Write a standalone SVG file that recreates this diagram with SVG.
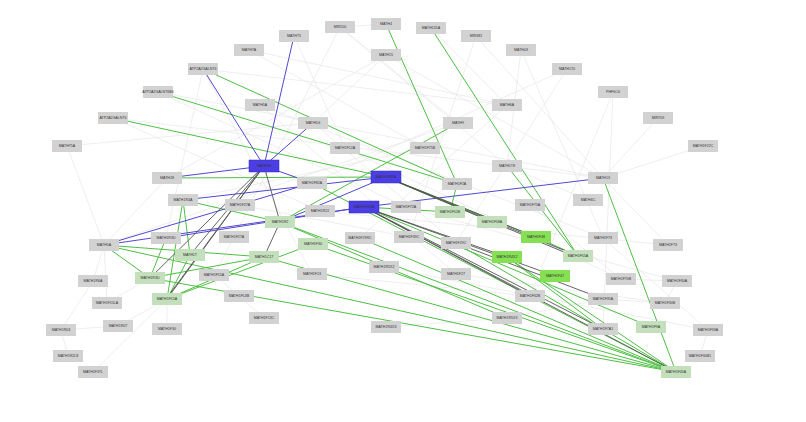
<svg xmlns="http://www.w3.org/2000/svg" width="806" height="422" viewBox="0 0 806 422">
<style>
.n rect{fill:#d2d2d2}
.lg rect{fill:#c4dfbc}
.bg rect{fill:#86e054}
.bl rect{fill:#4b3ee3;stroke:#3a2fc0;stroke-width:.5}
text{font-family:"Liberation Sans",Arial,sans-serif;font-size:3.6px;fill:#333;text-anchor:middle;dominant-baseline:central}
.e0{stroke:#e6e6e6;stroke-width:.7;fill:none}
.eg{stroke:#4fbf44;stroke-width:1;fill:none}
.eb{stroke:#5148d0;stroke-width:1;fill:none}
.ed{stroke:#555;stroke-width:.9;fill:none}
</style>
<rect width="806" height="422" fill="#fff"/>
<g id="edges">
<g class="e0">
<path d="M340 27L458 123M340 27L507 166M386 55L313 123M386 55L603 178M386 55L167 178M476 36L603 178M521 50L507 166M521 50L603 238M567 69L312 183M613 92L603 329M249 50L425 148M249 50L507 105M294 36L345 148M203 69L166 238M203 69L507 105M158 92L603 178M113 118L603 178M67 146L313 123M67 146L104 245M167 178L104 245M104 245L93 281M93 281L61 330M61 330L118 326M118 326L167 299M61 330L68 356M93 372L167 299M107 303L104 245M107 303L150 278M167 329L167 299M239 296L214 275M264 318L239 296M214 275L234 237M386 327L507 318M507 318L603 299M603 299L665 303M665 303L677 281M677 281L621 279M700 356L708 330M708 330L603 238M668 245L603 178M621 279L530 205M588 200L507 166M260 105L603 238M260 105L456 274M313 123L456 243M458 123L104 245M425 148L183 200M345 148L621 279M507 105L360 238M703 146L603 178M658 118L603 178M240 205L409 237M320 211L668 245M406 207L677 281M384 267L708 330M312 274L530 296M456 274L665 303M113 118L320 211M158 92L406 207M203 69L312 274M340 27L234 237M431 28L507 105M386 24L340 27M476 36L409 237M567 69L456 243M613 92L530 296"/>
</g>
<g class="eg">
<path d="M203 69L457 184M158 92L457 184M113 118L386 177M386 24L457 184M431 28L578 256M603 178L676 372M507 166L578 256M458 123L280 222M167 178L386 177M183 200L280 222M183 200L167 299M104 245L264 257M104 245L676 372M280 222L676 372M313 244L676 372M264 257L676 372M360 238L676 372M456 243L676 372M507 257L676 372M150 278L676 372M312 183L676 372M150 278L264 257M167 299L264 257M167 299L313 244M364 207L450 212M386 177L492 222M457 184L450 212M507 257L603 329M536 237L578 256M166 238L150 278M190 255L167 299M183 200L190 255M104 245L150 278M364 207L651 327M386 177L536 237M280 222L507 318"/>
</g>
<g class="eb">
<path d="M203 69L264 166M294 36L264 166M264 166L167 178M313 123L264 166M104 245L364 207M183 200L386 177M364 207L603 178M264 166L312 183M280 222L386 177M166 238L364 207M104 245L312 183"/>
</g>
<g class="ed">
<path d="M264 166L150 278M264 166L167 299M264 166L190 255M264 166L280 222M386 177L578 256M388 178L578 258M386 177L536 237M364 207L676 372M364 207L555 276M364 207L507 257M364 207L603 329M456 243L603 299M264 166L166 299M280 222L264 257M364 207L530 296"/>
</g>
</g>
<g id="nodes">
<g id="n1" class="n"><rect x="279" y="30" width="30" height="12"/><text x="294" y="36">MATH75</text></g>
<g id="n2" class="n"><rect x="325" y="21" width="30" height="12"/><text x="340" y="27">MIR200</text></g>
<g id="n3" class="n"><rect x="371" y="18" width="30" height="12"/><text x="386" y="24">MATH4</text></g>
<g id="n4" class="n"><rect x="416" y="22" width="30" height="12"/><text x="431" y="28">MATH131A</text></g>
<g id="n5" class="n"><rect x="461" y="30" width="30" height="12"/><text x="476" y="36">MIR381</text></g>
<g id="n6" class="n"><rect x="506" y="44" width="30" height="12"/><text x="521" y="50">MATH03</text></g>
<g id="n7" class="n"><rect x="234" y="44" width="30" height="12"/><text x="249" y="50">MATH7A</text></g>
<g id="n8" class="n"><rect x="371" y="49" width="30" height="12"/><text x="386" y="55">MATH15</text></g>
<g id="n9" class="n"><rect x="552" y="63" width="30" height="12"/><text x="567" y="69">MATH170</text></g>
<g id="n10" class="n"><rect x="188" y="63" width="30" height="12"/><text x="203" y="69">ATP2A2GALNT6</text></g>
<g id="n11" class="n"><rect x="598" y="86" width="30" height="12"/><text x="613" y="92">PHF6C6</text></g>
<g id="n12" class="n"><rect x="143" y="86" width="30" height="12"/><text x="158" y="92">ATP2A2GALNT6B6</text></g>
<g id="n13" class="n"><rect x="245" y="99" width="30" height="12"/><text x="260" y="105">MATH5A</text></g>
<g id="n14" class="n"><rect x="492" y="99" width="30" height="12"/><text x="507" y="105">MATH6A</text></g>
<g id="n15" class="n"><rect x="643" y="112" width="30" height="12"/><text x="658" y="118">MIR709</text></g>
<g id="n16" class="n"><rect x="98" y="112" width="30" height="12"/><text x="113" y="118">ATP2A2GALNT6</text></g>
<g id="n17" class="n"><rect x="298" y="117" width="30" height="12"/><text x="313" y="123">MATH5G</text></g>
<g id="n18" class="n"><rect x="443" y="117" width="30" height="12"/><text x="458" y="123">MATH9</text></g>
<g id="n19" class="n"><rect x="688" y="140" width="30" height="12"/><text x="703" y="146">MATH1F22C</text></g>
<g id="n20" class="n"><rect x="52" y="140" width="30" height="12"/><text x="67" y="146">MATH75A</text></g>
<g id="n21" class="n"><rect x="330" y="142" width="30" height="12"/><text x="345" y="148">MATH1F12A</text></g>
<g id="n22" class="n"><rect x="410" y="142" width="30" height="12"/><text x="425" y="148">MATH1F75B</text></g>
<g id="n23" class="n"><rect x="492" y="160" width="30" height="12"/><text x="507" y="166">MATH1T8</text></g>
<g id="n24" class="n"><rect x="152" y="172" width="30" height="12"/><text x="167" y="178">MATH28</text></g>
<g id="n25" class="n"><rect x="588" y="172" width="30" height="12"/><text x="603" y="178">MATH13</text></g>
<g id="n26" class="n"><rect x="297" y="177" width="30" height="12"/><text x="312" y="183">MATH1F82A</text></g>
<g id="n27" class="n"><rect x="442" y="178" width="30" height="12"/><text x="457" y="184">MATH1F2A</text></g>
<g id="n28" class="n"><rect x="168" y="194" width="30" height="12"/><text x="183" y="200">MATH1R4A</text></g>
<g id="n29" class="n"><rect x="573" y="194" width="30" height="12"/><text x="588" y="200">MATH6C</text></g>
<g id="n30" class="n"><rect x="225" y="199" width="30" height="12"/><text x="240" y="205">MATH1F27A</text></g>
<g id="n31" class="n"><rect x="515" y="199" width="30" height="12"/><text x="530" y="205">MATH1F75A</text></g>
<g id="n32" class="n"><rect x="391" y="201" width="30" height="12"/><text x="406" y="207">MATH1F72A</text></g>
<g id="n33" class="n"><rect x="305" y="205" width="30" height="12"/><text x="320" y="211">MATH1R22</text></g>
<g id="n34" class="n"><rect x="219" y="231" width="30" height="12"/><text x="234" y="237">MATH1F27A</text></g>
<g id="n35" class="n"><rect x="345" y="232" width="30" height="12"/><text x="360" y="238">MATH1F29RC</text></g>
<g id="n36" class="n"><rect x="394" y="231" width="30" height="12"/><text x="409" y="237">MATH1F39C</text></g>
<g id="n37" class="n"><rect x="588" y="232" width="30" height="12"/><text x="603" y="238">MATH1F73</text></g>
<g id="n38" class="n"><rect x="89" y="239" width="30" height="12"/><text x="104" y="245">MATH1A</text></g>
<g id="n39" class="n"><rect x="151" y="232" width="30" height="12"/><text x="166" y="238">MATH1R3D</text></g>
<g id="n40" class="n"><rect x="441" y="237" width="30" height="12"/><text x="456" y="243">MATH1F29C</text></g>
<g id="n41" class="n"><rect x="653" y="239" width="30" height="12"/><text x="668" y="245">MATH1F73</text></g>
<g id="n43" class="n"><rect x="369" y="261" width="30" height="12"/><text x="384" y="267">MATH1R5X2</text></g>
<g id="n44" class="n"><rect x="297" y="268" width="30" height="12"/><text x="312" y="274">MATH1F13</text></g>
<g id="n45" class="n"><rect x="441" y="268" width="30" height="12"/><text x="456" y="274">MATH1F27</text></g>
<g id="n46" class="n"><rect x="606" y="273" width="30" height="12"/><text x="621" y="279">MATH1F70B</text></g>
<g id="n47" class="n"><rect x="78" y="275" width="30" height="12"/><text x="93" y="281">MATH1R6A</text></g>
<g id="n48" class="n"><rect x="199" y="269" width="30" height="12"/><text x="214" y="275">MATH1F15A</text></g>
<g id="n49" class="n"><rect x="662" y="275" width="30" height="12"/><text x="677" y="281">MATH1F30A</text></g>
<g id="n50" class="n"><rect x="515" y="290" width="30" height="12"/><text x="530" y="296">MATH1F32B</text></g>
<g id="n51" class="n"><rect x="92" y="297" width="30" height="12"/><text x="107" y="303">MATH1F15LA</text></g>
<g id="n52" class="n"><rect x="224" y="290" width="30" height="12"/><text x="239" y="296">MATH1F13B</text></g>
<g id="n53" class="n"><rect x="588" y="293" width="30" height="12"/><text x="603" y="299">MATH1F35A</text></g>
<g id="n54" class="n"><rect x="650" y="297" width="30" height="12"/><text x="665" y="303">MATH1F30B</text></g>
<g id="n55" class="n"><rect x="492" y="312" width="30" height="12"/><text x="507" y="318">MATH1R5X3</text></g>
<g id="n56" class="n"><rect x="249" y="312" width="30" height="12"/><text x="264" y="318">MATH1F13C</text></g>
<g id="n57" class="n"><rect x="103" y="320" width="30" height="12"/><text x="118" y="326">MATH1R07</text></g>
<g id="n58" class="n"><rect x="46" y="324" width="30" height="12"/><text x="61" y="330">MATH1R03</text></g>
<g id="n59" class="n"><rect x="152" y="323" width="30" height="12"/><text x="167" y="329">MATH1F30</text></g>
<g id="n60" class="n"><rect x="371" y="321" width="30" height="12"/><text x="386" y="327">MATH1R4X3</text></g>
<g id="n61" class="n"><rect x="588" y="323" width="30" height="12"/><text x="603" y="329">MATH1F7A1</text></g>
<g id="n62" class="n"><rect x="693" y="324" width="30" height="12"/><text x="708" y="330">MATH1F33A</text></g>
<g id="n63" class="n"><rect x="53" y="350" width="30" height="12"/><text x="68" y="356">MATH1R2L8</text></g>
<g id="n64" class="n"><rect x="685" y="350" width="30" height="12"/><text x="700" y="356">MATH1F30B1</text></g>
<g id="n65" class="n"><rect x="78" y="366" width="30" height="12"/><text x="93" y="372">MATH1F37L</text></g>
<g id="g1" class="lg"><rect x="265" y="216" width="30" height="12"/><text x="280" y="222">MATH1R2</text></g>
<g id="g2" class="lg"><rect x="298" y="238" width="30" height="12"/><text x="313" y="244">MATH1F30</text></g>
<g id="g3" class="lg"><rect x="249" y="251" width="30" height="12"/><text x="264" y="257">MATH1C17</text></g>
<g id="g4" class="lg"><rect x="135" y="272" width="30" height="12"/><text x="150" y="278">MATH1R3D</text></g>
<g id="g5" class="lg"><rect x="152" y="293" width="30" height="12"/><text x="167" y="299">MATH1F15A</text></g>
<g id="g6" class="lg"><rect x="435" y="206" width="30" height="12"/><text x="450" y="212">MATH1F52B</text></g>
<g id="g7" class="lg"><rect x="477" y="216" width="30" height="12"/><text x="492" y="222">MATH1F58A</text></g>
<g id="g8" class="lg"><rect x="563" y="250" width="30" height="12"/><text x="578" y="256">MATH1F55A</text></g>
<g id="g9" class="lg"><rect x="636" y="321" width="30" height="12"/><text x="651" y="327">MATH1F9A</text></g>
<g id="g10" class="lg"><rect x="661" y="366" width="30" height="12"/><text x="676" y="372">MATH1F45A</text></g>
<g id="g11" class="lg"><rect x="175" y="249" width="30" height="12"/><text x="190" y="255">MATH1T</text></g>
<g id="b1" class="bg"><rect x="521" y="231" width="30" height="12"/><text x="536" y="237">MATH1F48</text></g>
<g id="b2" class="bg"><rect x="492" y="251" width="30" height="12"/><text x="507" y="257">MATH1R4X2</text></g>
<g id="b3" class="bg"><rect x="540" y="270" width="30" height="12"/><text x="555" y="276">MATH1F47</text></g>
<g id="u1" class="bl"><rect x="249" y="160" width="30" height="12"/><text x="264" y="166">MATH28</text></g>
<g id="u2" class="bl"><rect x="371" y="171" width="30" height="12"/><text x="386" y="177">MATH1F82A</text></g>
<g id="u3" class="bl"><rect x="349" y="201" width="30" height="12"/><text x="364" y="207">MATH1F32A</text></g>
</g>
</svg>
